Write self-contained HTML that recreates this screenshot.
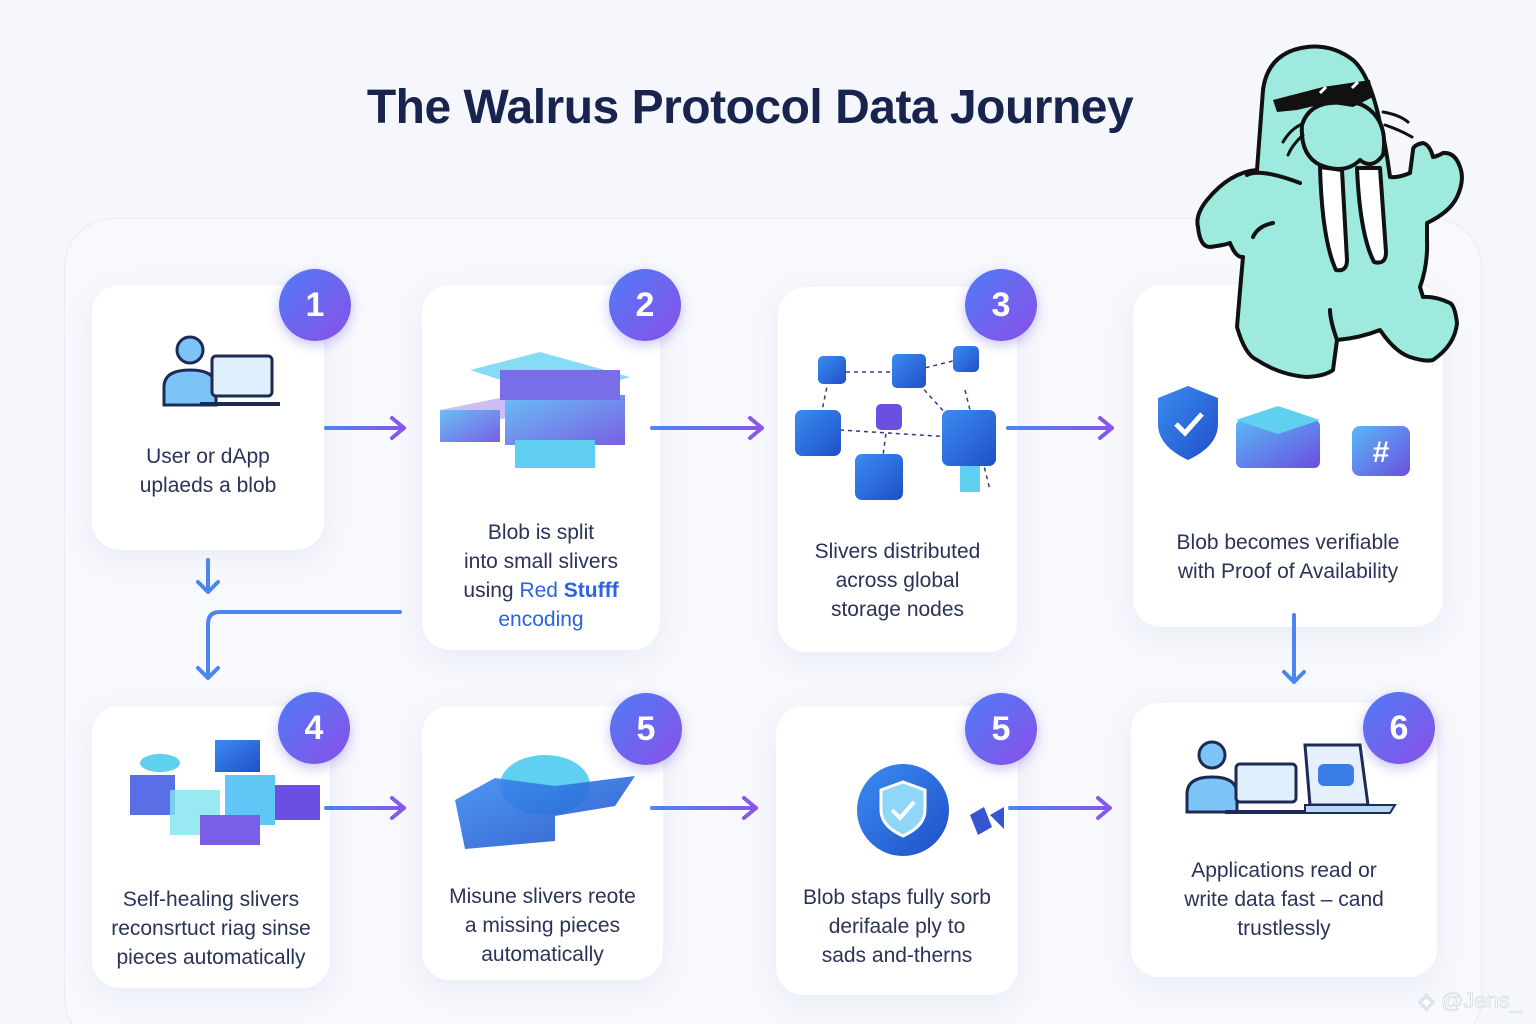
<!DOCTYPE html>
<html><head><meta charset="utf-8"><style>
*{margin:0;padding:0;box-sizing:border-box}
html,body{width:1536px;height:1024px;overflow:hidden}
body{background:#f5f7fc;font-family:"Liberation Sans",sans-serif;position:relative}
.title{position:absolute;left:0;width:1500px;top:80px;text-align:center;font-size:48px;font-weight:bold;color:#18234e;letter-spacing:-0.5px}
.panel{position:absolute;left:64px;top:218px;width:1418px;height:830px;border-radius:50px;background:#f8f9fd;border:1px solid #e8ebf5}
.card{position:absolute;background:#fff;border-radius:28px;box-shadow:0 8px 30px rgba(120,130,200,.12)}
.txt{position:absolute;left:0;right:0;text-align:center;font-size:21px;line-height:29px;color:#2a3358}
.badge{position:absolute;width:72px;height:72px;border-radius:50%;background:linear-gradient(135deg,#4f7cf6,#8a4fe8);color:#fff;font-size:34px;font-weight:bold;text-align:center;line-height:72px;box-shadow:0 4px 12px rgba(100,90,220,.35)}
.blue{color:#2b63e0}
</style></head><body>
<div class="title">The Walrus Protocol Data Journey</div>
<div class="panel"></div>

<div class="card" style="left:92px;top:285px;width:232px;height:265px"><div class="txt" style="top:157px">User or dApp<br>uplaeds a blob</div></div>
<div class="card" style="left:422px;top:285px;width:238px;height:365px"><div class="txt" style="top:233px">Blob is split<br>into small slivers<br>using <span class="blue">Red <b>Stufff</b></span><br><span class="blue">encoding</span></div></div>
<div class="card" style="left:778px;top:287px;width:239px;height:365px"><div class="txt" style="top:250px">Slivers distributed<br>across global<br>storage nodes</div></div>
<div class="card" style="left:1133px;top:285px;width:310px;height:342px"><div class="txt" style="top:243px">Blob becomes verifiable<br>with Proof of Availability</div></div>

<div class="card" style="left:92px;top:706px;width:238px;height:282px"><div class="txt" style="top:179px">Self-healing slivers<br>reconsrtuct riag sinse<br>pieces automatically</div></div>
<div class="card" style="left:422px;top:706px;width:241px;height:274px"><div class="txt" style="top:176px">Misune slivers reote<br>a missing pieces<br>automatically</div></div>
<div class="card" style="left:776px;top:706px;width:242px;height:289px"><div class="txt" style="top:177px">Blob staps fully sorb<br>derifaale ply to<br>sads and-therns</div></div>
<div class="card" style="left:1131px;top:703px;width:306px;height:274px"><div class="txt" style="top:153px">Applications read or<br>write data fast – cand<br>trustlessly</div></div>

<div class="badge" style="left:279px;top:269px">1</div>
<div class="badge" style="left:609px;top:269px">2</div>
<div class="badge" style="left:965px;top:269px">3</div>
<div class="badge" style="left:278px;top:692px">4</div>
<div class="badge" style="left:610px;top:693px">5</div>
<div class="badge" style="left:965px;top:693px">5</div>
<div class="badge" style="left:1363px;top:692px">6</div>

<svg width="1536" height="1024" style="position:absolute;left:0;top:0">
<defs>
<linearGradient id="ar" x1="0" x2="1"><stop offset="0" stop-color="#4a86f0"/><stop offset="1" stop-color="#8a55ea"/></linearGradient>
<linearGradient id="cube" x1="0" y1="0" x2="1" y2="1"><stop offset="0" stop-color="#5ab8f5"/><stop offset="1" stop-color="#6a4fe0"/></linearGradient>
<linearGradient id="cube2" x1="0" y1="0" x2="1" y2="1"><stop offset="0" stop-color="#3b8cf0"/><stop offset="1" stop-color="#1f4fc8"/></linearGradient>
</defs>
<g stroke="url(#ar)" stroke-width="4" fill="none" stroke-linecap="round" stroke-linejoin="round">
<path d="M326 428H404M392 418l12 10-12 10"/>
<path d="M652 428H762M750 418l12 10-12 10"/>
<path d="M1008 428H1112M1100 418l12 10-12 10"/>
<path d="M326 808H404M392 798l12 10-12 10"/>
<path d="M652 808H756M744 798l12 10-12 10"/>
<path d="M1010 808H1110M1098 798l12 10-12 10"/>
</g>
<g stroke="#4a86f0" stroke-width="4" fill="none" stroke-linecap="round" stroke-linejoin="round">
<path d="M208 560V592M198 582l10 10 10-10"/>
<path d="M400 612H220Q208 612 208 624V678M198 668l10 10 10-10"/>
<path d="M1294 615V682M1284 672l10 10 10-10"/>
</g>
<!-- icon 1 -->
<circle cx="190" cy="350" r="13" fill="#7cc4f5" stroke="#1c2a55" stroke-width="3"/>
<path d="M164 405v-18q0-17 26-17t26 17v18z" fill="#7cc4f5" stroke="#1c2a55" stroke-width="3"/>
<rect x="212" y="356" width="60" height="40" rx="4" fill="#dff0fc" stroke="#1c2a55" stroke-width="3"/>
<path d="M200 404h80" stroke="#1c2a55" stroke-width="4"/>
<!-- icon 2 -->
<g opacity=".9">
<path d="M470 370l70-18 90 25-70 22z" fill="#7ad8f5"/>
<path d="M440 410l60-12 40 12-60 14z" fill="#c9b6f5"/>
<rect x="440" y="410" width="60" height="32" fill="url(#cube)"/>
<rect x="505" y="395" width="120" height="50" fill="url(#cube)"/>
<rect x="500" y="370" width="120" height="30" fill="#6a5fe8"/>
<rect x="515" y="440" width="80" height="28" fill="#4ec9ef"/>
</g>
<!-- icon 3 -->
<g stroke="#2c3e8a" stroke-width="1.5" stroke-dasharray="4 4" fill="none">
<path d="M830 372L908 372L965 358M830 372L818 430M908 372L968 438M888 418L880 478M965 390L990 490M840 430L968 438"/>
</g>
<rect x="818" y="356" width="28" height="28" rx="5" fill="url(#cube2)"/>
<rect x="892" y="354" width="34" height="34" rx="5" fill="url(#cube2)"/>
<rect x="953" y="346" width="26" height="26" rx="5" fill="url(#cube2)"/>
<rect x="876" y="404" width="26" height="26" rx="5" fill="#6a4fe0"/>
<rect x="795" y="410" width="46" height="46" rx="7" fill="url(#cube2)"/>
<rect x="855" y="454" width="48" height="46" rx="7" fill="url(#cube2)"/>
<rect x="942" y="410" width="54" height="56" rx="7" fill="url(#cube2)"/>
<rect x="960" y="466" width="20" height="26" fill="#5fd0f0"/>
<!-- icon 4 -->
<path d="M1188 386l30 12v26q0 22-30 36q-30-14-30-36v-26z" fill="url(#cube2)"/>
<path d="M1176 424l9 9 17-19" stroke="#fff" stroke-width="5" fill="none"/>
<rect x="1236" y="420" width="84" height="48" rx="6" fill="url(#cube)"/>
<path d="M1236 420l42-14 42 14-42 14z" fill="#5fd0f0"/>
<rect x="1352" y="426" width="58" height="50" rx="8" fill="url(#cube)"/>
<text x="1381" y="462" font-size="30" fill="#fff" text-anchor="middle" font-weight="bold">#</text>
<!-- icon row2 -->
<rect x="130" y="775" width="45" height="40" fill="#5a6ee8"/><rect x="170" y="790" width="50" height="45" fill="#7fe3f0" opacity=".8"/>
<rect x="215" y="740" width="45" height="32" fill="url(#cube2)"/><rect x="225" y="775" width="50" height="50" fill="#5fc6f5"/>
<rect x="275" y="785" width="45" height="35" fill="#6a4fe0"/><rect x="200" y="815" width="60" height="30" fill="#7a5fe6"/>
<ellipse cx="160" cy="763" rx="20" ry="9" fill="#5fd0f0"/>
<ellipse cx="545" cy="785" rx="45" ry="30" fill="#5fd0f0"/>
<path d="M455 800l40-22 60 8 80-10-20 30-60 10v25l-90 8z" fill="url(#cube2)" opacity=".9"/>
<circle cx="903" cy="810" r="46" fill="url(#cube2)"/>
<path d="M903 782l22 8v20q0 16-22 26q-22-10-22-26v-20z" fill="#8fd6f8" stroke="#fff" stroke-width="3"/>
<path d="M892 810l8 8 14-16" stroke="#fff" stroke-width="4" fill="none"/>
<path d="M970 815l14-8 8 20-14 8z M990 815l14-8v22z" fill="#3556d0"/>
<circle cx="1212" cy="755" r="13" fill="#7cc4f5" stroke="#1c2a55" stroke-width="3"/>
<path d="M1187 812v-18q0-17 25-17t25 17v18z" fill="#7cc4f5" stroke="#1c2a55" stroke-width="3"/>
<rect x="1236" y="764" width="60" height="38" rx="4" fill="#dff0fc" stroke="#1c2a55" stroke-width="3"/>
<path d="M1225 812h80" stroke="#1c2a55" stroke-width="4"/>
<path d="M1305 745h55l8 60h-58z" fill="#e6effc" stroke="#1c2a55" stroke-width="3"/>
<rect x="1318" y="764" width="36" height="22" rx="6" fill="#3b7de8"/>
<path d="M1305 805h90l-5 8h-85z" fill="#b8d8f8" stroke="#1c2a55" stroke-width="2"/>
<!-- walrus -->
<g stroke="#111" stroke-width="4" fill="#9eeadf" stroke-linejoin="round" stroke-linecap="round">
<path d="M1307 47Q1268 52 1263 90L1257 170Q1230 172 1207 200Q1195 215 1198 227Q1200 247 1210 247Q1225 245 1230 243Q1236 258 1243 257Q1240 290 1237 327Q1245 355 1257 360Q1280 375 1307 377Q1325 376 1333 370L1337 340Q1360 338 1380 330Q1395 352 1410 357Q1425 362 1433 360Q1455 345 1457 323Q1455 306 1450 303Q1435 296 1423 297L1420 287Q1428 265 1427 240L1427 223Q1450 212 1457 197Q1465 180 1460 167Q1455 152 1443 153Q1438 156 1433 157Q1430 145 1423 143Q1413 145 1413 150L1410 173Q1398 178 1390 177Q1385 140 1380 123Q1370 75 1353 60Q1332 44 1307 47Z"/>
<path d="M1300 183Q1260 168 1247 175M1253 237Q1258 226 1273 223M1337 340Q1330 320 1330 310" fill="none"/>
<path d="M1343 103Q1310 100 1302 125Q1300 155 1320 165Q1345 175 1360 160Q1372 170 1383 155Q1388 125 1370 110Q1358 100 1343 103Z"/>
<path d="M1320 167Q1322 240 1336 270Q1347 272 1347 260L1342 170Z M1357 168Q1360 235 1374 262Q1386 265 1386 252L1380 168Z" fill="#fff"/>
<path d="M1383 112Q1400 115 1408 122M1385 125Q1400 130 1412 137M1300 125Q1290 130 1283 142M1303 135Q1292 145 1288 155" fill="none" stroke-width="3"/>
</g>
<path d="M1273 100L1323 87L1370 80L1373 97L1353 107L1327 103L1297 110L1277 112Z" fill="#111"/>
<path d="M1320 93l6-6M1352 88l6-6" stroke="#fff" stroke-width="3"/>
<text x="1470" y="1008" font-size="22" fill="#fff" stroke="#c8cde0" stroke-width=".6" text-anchor="middle">◈ @Jens_</text>
</svg>
</body></html>
